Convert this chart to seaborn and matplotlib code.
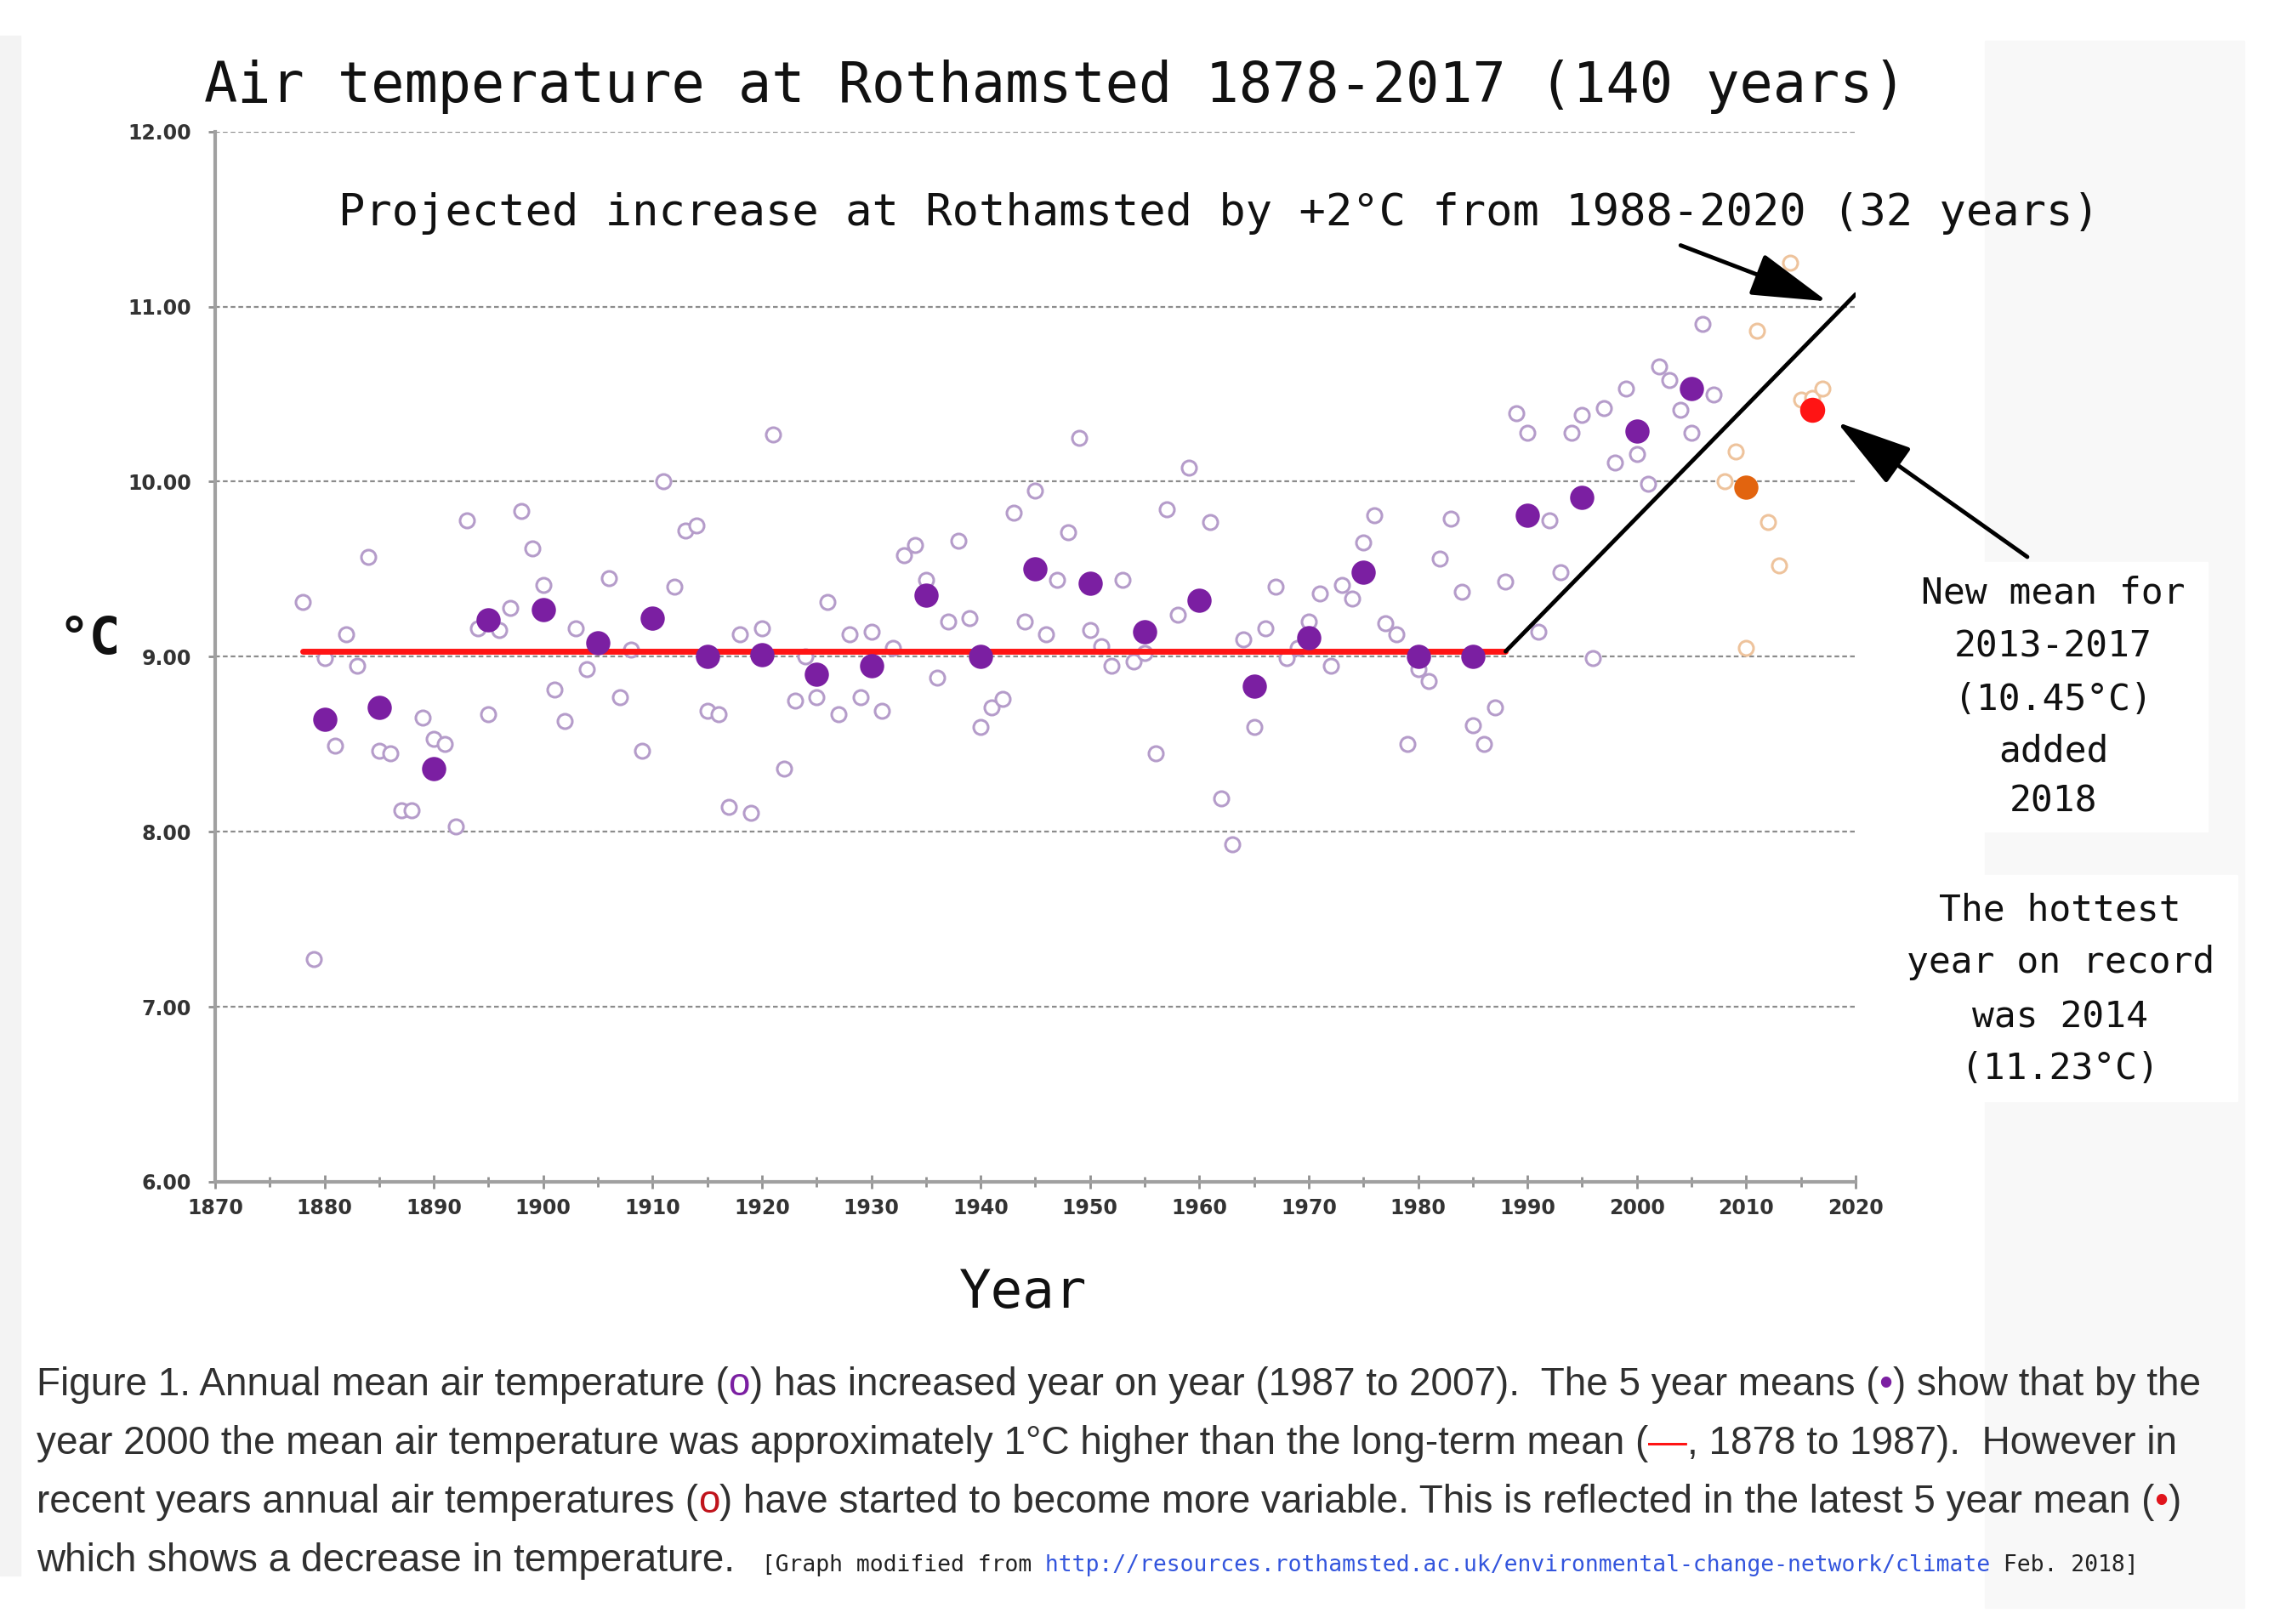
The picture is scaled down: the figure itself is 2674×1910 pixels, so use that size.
import numpy as np
import pandas as pd
import seaborn as sns
import matplotlib.pyplot as plt
from matplotlib.patches import Rectangle
from matplotlib.ticker import MultipleLocator, FormatStrFormatter

# annual means 1878-2007 (open purple circles)
years_annual = list(range(1878, 2008))
temp_annual = [
    9.31, 7.27, 8.99, 8.49, 9.13, 8.95, 9.57, 8.46, 8.45, 8.12,   # 1878-1887
    8.12, 8.65, 8.53, 8.50, 8.03, 9.78, 9.16, 8.67, 9.15, 9.28,   # 1888-1897
    9.83, 9.62, 9.41, 8.81, 8.63, 9.16, 8.93, 9.09, 9.45, 8.77,   # 1898-1907
    9.04, 8.46, 9.20, 10.00, 9.40, 9.72, 9.75, 8.69, 8.67, 8.14,  # 1908-1917
    9.13, 8.11, 9.16, 10.27, 8.36, 8.75, 9.00, 8.77, 9.31, 8.67,  # 1918-1927
    9.13, 8.77, 9.14, 8.69, 9.05, 9.58, 9.64, 9.44, 8.88, 9.20,   # 1928-1937
    9.66, 9.22, 8.60, 8.71, 8.76, 9.82, 9.20, 9.95, 9.13, 9.44,   # 1938-1947
    9.71, 10.25, 9.15, 9.06, 8.95, 9.44, 8.97, 9.02, 8.45, 9.84,  # 1948-1957
    9.24, 10.08, 9.32, 9.77, 8.19, 7.93, 9.10, 8.60, 9.16, 9.40,  # 1958-1967
    8.99, 9.05, 9.20, 9.36, 8.95, 9.41, 9.33, 9.65, 9.81, 9.19,   # 1968-1977
    9.13, 8.50, 8.93, 8.86, 9.56, 9.79, 9.37, 8.61, 8.50, 8.71,   # 1978-1987
    9.43, 10.39, 10.28, 9.14, 9.78, 9.48, 10.28, 10.38, 8.99, 10.42,  # 1988-1997
    10.11, 10.53, 10.16, 9.99, 10.66, 10.58, 10.41, 10.28, 10.90, 10.50,  # 1998-2007
]

# recent annual means 2008-2017 (open orange circles)
years_recent = list(range(2008, 2018))
temp_recent = [10.00, 10.17, 9.05, 10.86, 9.77, 9.52, 11.25, 10.47, 10.48, 10.53]

# 5 year means (filled purple)
years_5yr = list(range(1880, 2006, 5))
temp_5yr = [8.64, 8.71, 8.36, 9.21, 9.27, 9.08, 9.22, 9.00, 9.01, 8.90,
            8.95, 9.35, 9.00, 9.50, 9.42, 9.14, 9.32, 8.83, 9.11, 9.48,
            9.00, 9.00, 9.81, 9.91, 10.29, 10.53]

# 5 year mean 2008-2012 (filled orange) and 2013-2017 (filled red)
years_5yr_orange = [2010]
temp_5yr_orange = [9.97]
years_new_mean = [2016]
temp_new_mean = [10.41]

# long-term mean and projection
longterm_years = [1878, 1988]
longterm_temp = [9.03, 9.03]
projection_years = [1988, 2020]
projection_temp = [9.03, 11.07]

PURPLE_OPEN = '#b59cca'
PURPLE_FILL = '#7b1fa2'
ORANGE_OPEN = '#eec39c'
ORANGE_FILL = '#e2640f'
RED = '#ff1414'
MONO = 'DejaVu Sans Mono'

sns.set_style('white')
plt.rcParams['font.family'] = ['DejaVu Sans']

fig = plt.figure(figsize=(26.74, 19.10), dpi=100, facecolor='white')

# light grey panels of the original picture, white boxes behind the notes
def panel(x, y, w, h, c):
    fig.patches.append(Rectangle((x, y), w, h, transform=fig.transFigure,
                                 color=c, zorder=-5))

panel(0, 0.03, 0.009, 0.948, '#f3f3f3')
panel(0.873, 0.01, 0.114, 0.965, '#f8f8f8')
panel(0.843, 0.488, 0.128, 0.166, 'white')
panel(0.833, 0.322, 0.151, 0.139, 'white')

ax = fig.add_axes([0.0946, 0.2723, 0.7214, 0.6467])
ax.set_facecolor('none')

annual = pd.DataFrame({'year': years_annual, 'temp': temp_annual})
recent = pd.DataFrame({'year': years_recent, 'temp': temp_recent})
means = pd.DataFrame({'year': years_5yr, 'temp': temp_5yr})

sns.scatterplot(data=annual, x='year', y='temp', ax=ax, marker='o', s=150,
                color='white', edgecolor=PURPLE_OPEN, linewidth=2.2, zorder=3)
sns.scatterplot(data=recent, x='year', y='temp', ax=ax, marker='o', s=150,
                color='white', edgecolor=ORANGE_OPEN, linewidth=2.2, zorder=3)

sns.lineplot(x=longterm_years, y=longterm_temp, ax=ax, color=RED, lw=5, zorder=4)
sns.lineplot(x=projection_years, y=projection_temp, ax=ax, color='black', lw=3.5, zorder=6)

sns.scatterplot(data=means, x='year', y='temp', ax=ax, marker='o', s=420,
                color=PURPLE_FILL, edgecolor=PURPLE_FILL, linewidth=0, zorder=5)
sns.scatterplot(x=years_5yr_orange, y=temp_5yr_orange, ax=ax, marker='o', s=420,
                color=ORANGE_FILL, edgecolor=ORANGE_FILL, linewidth=0, zorder=5)
sns.scatterplot(x=years_new_mean, y=temp_new_mean, ax=ax, marker='o', s=450,
                color=RED, edgecolor=RED, linewidth=0, zorder=5)

ax.set_xlim(1870, 2020)
ax.set_ylim(6, 12)
ax.xaxis.set_major_locator(MultipleLocator(10))
ax.xaxis.set_minor_locator(MultipleLocator(5))
ax.yaxis.set_major_locator(MultipleLocator(1))
ax.yaxis.set_major_formatter(FormatStrFormatter('%.2f'))
ax.set_xlabel('')
ax.set_ylabel('')

for side in ['top', 'right']:
    ax.spines[side].set_visible(False)
for side in ['left', 'bottom']:
    ax.spines[side].set_color('#a0a0a0')
    ax.spines[side].set_linewidth(3)

ax.yaxis.grid(True, color='#8c8c8c', linestyle=(0, (2.5, 1.6)), linewidth=1.6)
ax.xaxis.grid(False)
ax.tick_params(axis='x', which='major', direction='inout', length=12, width=2,
               color='#909090', labelsize=17, pad=8, bottom=True)
ax.tick_params(axis='x', which='minor', direction='inout', length=8, width=2,
               color='#909090', bottom=True)
ax.tick_params(axis='y', which='major', direction='out', length=6, width=2,
               color='#909090', labelsize=17, pad=14, left=True)
for lab in ax.get_xticklabels() + ax.get_yticklabels():
    lab.set_fontweight('bold')
    lab.set_color('#333333')

# arrows
ax.annotate('', xy=(2017.4, 11.03), xytext=(2004.0, 11.35), annotation_clip=False,
            arrowprops=dict(arrowstyle='-|>,head_length=1.4,head_width=0.4',
                            mutation_scale=40, lw=3.5, color='black',
                            shrinkA=0, shrinkB=0), zorder=7)
ax.annotate('', xy=(2018.3, 10.34), xytext=(2035.7, 9.57), annotation_clip=False,
            arrowprops=dict(arrowstyle='-|>,head_length=1.4,head_width=0.4',
                            mutation_scale=40, lw=3.5, color='black',
                            shrinkA=0, shrinkB=0), zorder=7)

# titles and labels
fig.text(0.464, 0.937, 'Air temperature at Rothamsted 1878-2017 (140 years)',
         ha='center', va='baseline', fontsize=47, family=MONO, color='#111111')
fig.text(0.536, 0.861, 'Projected increase at Rothamsted by +2°C from 1988-2020 (32 years)',
         ha='center', va='baseline', fontsize=37.5, family=MONO, color='#111111')
fig.text(0.0393, 0.606, '°C', ha='center', va='center', fontsize=44,
         family=MONO, fontweight='bold', color='#111111')
fig.text(0.450, 0.195, 'Year', ha='center', va='baseline', fontsize=45,
         family=MONO, color='#111111')

new_mean_lines = ['New mean for', '2013-2017', '(10.45°C)', 'added', '2018']
new_mean_y = [0.6283, 0.5953, 0.5628, 0.5309, 0.5005]
for s, y in zip(new_mean_lines, new_mean_y):
    fig.text(0.903, y, s, ha='center', va='baseline', fontsize=31, family=MONO,
             color='#111111')
hottest_lines = ['The hottest', 'year on record', 'was 2014', '(11.23°C)']
hottest_y = [0.433, 0.401, 0.3675, 0.3356]
for s, y in zip(hottest_lines, hottest_y):
    fig.text(0.906, y, s, ha='center', va='baseline', fontsize=31, family=MONO,
             color='#111111')

# caption with coloured symbols
renderer = fig.canvas.get_renderer()
CAP = 'Liberation Sans'
TXT = '#303030'
CS = 33
caption = [
    [('Figure 1. Annual mean air temperature (', TXT, CAP, CS),
     ('o', PURPLE_FILL, CAP, CS),
     (') has increased year on year (1987 to 2007).  The 5 year means (', TXT, CAP, CS),
     ('•', PURPLE_FILL, CAP, CS),
     (') show that by the', TXT, CAP, CS)],
    [('year 2000 the mean air temperature was approximately 1°C higher than the long-term mean (', TXT, CAP, CS),
     ('—', RED, CAP, CS),
     (', 1878 to 1987).  However in', TXT, CAP, CS)],
    [('recent years annual air temperatures (', TXT, CAP, CS),
     ('o', '#c0141c', CAP, CS),
     (') have started to become more variable. This is reflected in the latest 5 year mean (', TXT, CAP, CS),
     ('•', '#e0141c', CAP, CS),
     (')', TXT, CAP, CS)],
    [('which shows a decrease in temperature.', TXT, CAP, CS),
     ('  [Graph modified from', '#222222', MONO, 19),
     (' http://resources.rothamsted.ac.uk/environmental-change-network/climate', '#3355dd', MONO, 19),
     (' Feb. 2018]', '#222222', MONO, 19)],
]
caption_y = [0.1408, 0.1047, 0.0686, 0.0325]
for parts, y in zip(caption, caption_y):
    x = 0.016
    for s, c, fam, size in parts:
        t = fig.text(x, y, s, color=c, fontsize=size, family=fam, va='baseline')
        x += t.get_window_extent(renderer).width / fig.bbox.width

fig.savefig('out.png', dpi=100, facecolor=fig.get_facecolor())
